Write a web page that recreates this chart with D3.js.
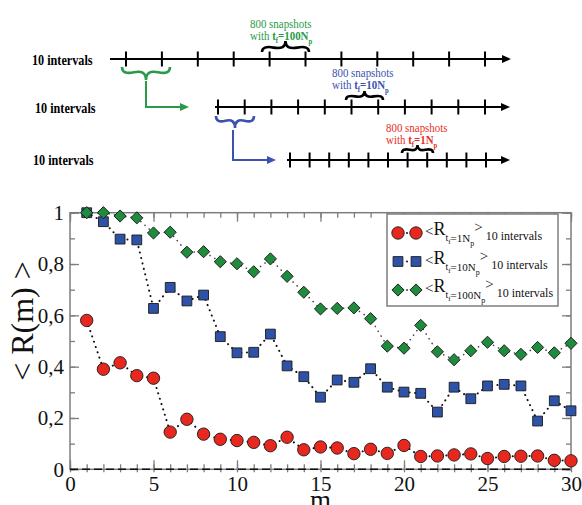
<!DOCTYPE html>
<html>
<head>
<meta charset="utf-8">
<script src="https://cdn.jsdelivr.net/npm/d3@7"></script>
<style>
  body { margin: 0; background: #fff; }
  text { font-family: "Liberation Serif", "Times New Roman", serif; }
</style>
</head>
<body>
<svg id="chart" width="582" height="505"></svg>
<script>
// ---- data ----
const mValues = [1,2,3,4,5,6,7,8,9,10,11,12,13,14,15,16,17,18,19,20,21,22,23,24,25,26,27,28,29,30];
const rTf1   = [0.58,0.39,0.415,0.365,0.355,0.145,0.195,0.137,0.117,0.112,0.105,0.092,0.125,0.076,0.087,
                0.083,0.061,0.078,0.062,0.093,0.05,0.052,0.056,0.06,0.042,0.05,0.051,0.052,0.035,0.033];
const rTf10  = [1.0,0.965,0.897,0.894,0.627,0.709,0.656,0.679,0.517,0.454,0.456,0.527,0.403,0.361,0.281,
                0.348,0.339,0.392,0.32,0.301,0.296,0.223,0.32,0.275,0.325,0.331,0.325,0.188,0.267,0.228];
const rTf100 = [1.0,1.0,0.987,0.98,0.921,0.924,0.846,0.848,0.809,0.801,0.77,0.82,0.752,0.69,0.625,
                0.627,0.629,0.587,0.48,0.472,0.561,0.458,0.427,0.462,0.495,0.462,0.448,0.475,0.454,0.491];
const xTickValues = [0,5,10,15,20,25,30];
const yTickValues = [0,0.2,0.4,0.6,0.8,1];
const yTickLabels = ["0","0,2","0,4","0,6","0,8","1"];
const seriesTf = ["1N", "10N", "100N"];
const intervalTicks = [0,1,2,3,4,5,6,7,8,9,10];

const svg = d3.select("#chart");

// ---- schematic of the sampling intervals ----
function bracePath(x1, y1, x2, y2, w, q) {
  let dx = x1 - x2, dy = y1 - y2;
  const len = Math.hypot(dx, dy); dx /= len; dy /= len;
  const qx1 = x1 + q*w*dy, qy1 = y1 - q*w*dx;
  const qx2 = (x1 - .25*len*dx) + (1-q)*w*dy, qy2 = (y1 - .25*len*dy) - (1-q)*w*dx;
  const tx1 = (x1 - .5*len*dx) + w*dy, ty1 = (y1 - .5*len*dy) - w*dx;
  const qx3 = x2 + q*w*dy, qy3 = y2 - q*w*dx;
  const qx4 = (x1 - .75*len*dx) + (1-q)*w*dy, qy4 = (y1 - .75*len*dy) - (1-q)*w*dx;
  return `M${x1},${y1} Q${qx1},${qy1} ${qx2},${qy2} T${tx1},${ty1} M${x2},${y2} Q${qx3},${qy3} ${qx4},${qy4} T${tx1},${ty1}`;
}
function arrowHead(g, tipX, tipY, color, len, half) {
  g.append("path")
    .attr("d", `M${tipX},${tipY} L${tipX-len},${tipY-half} L${tipX-len},${tipY+half} Z`)
    .attr("fill", color);
}

const rows = [
  { y: 59,  start: 110, first: 126, last: 485, tip: 511, labelX: 32, labelY: 65 },
  { y: 107, start: 215, first: 218, last: 485, tip: 510, labelX: 35, labelY: 113 },
  { y: 160, start: 287, first: 290, last: 486, tip: 510, labelX: 33, labelY: 165 }
];
const schem = svg.append("g");
rows.forEach(r => {
  const sx = d3.scaleLinear().domain([0, 10]).range([r.first, r.last]);
  schem.append("line").attr("x1", r.start).attr("x2", r.tip - 6)
    .attr("y1", r.y).attr("y2", r.y).attr("stroke", "#000").attr("stroke-width", 2);
  arrowHead(schem, r.tip, r.y, "#000", 9, 4);
  schem.selectAll(null).data(intervalTicks).enter().append("line")
    .attr("x1", d => sx(d)).attr("x2", d => sx(d))
    .attr("y1", r.y - 7.5).attr("y2", r.y + 7.5)
    .attr("stroke", "#000").attr("stroke-width", 2);
  schem.append("g").attr("transform", `translate(${r.labelX},${r.labelY}) scale(0.87,1)`)
    .append("text").attr("font-size", 14).attr("font-weight", "bold").text("10 intervals");
});

// braces over the 800-snapshot windows
const braceStroke = 2.6;
[
  { x1: 262, x2: 309, y: 52,  w: -11, color: "#000" },
  { x1: 346, x2: 383, y: 100, w: -9,  color: "#000" },
  { x1: 402, x2: 433, y: 153, w: -8,  color: "#000" },
  { x1: 122, x2: 170, y: 67,  w: 13,  color: "#2a9a48" },
  { x1: 216, x2: 254, y: 116, w: 12,  color: "#3b52b0" }
].forEach(b => {
  schem.append("path").attr("d", bracePath(b.x1, b.y, b.x2, b.y, b.w, 0.6))
    .attr("fill", "none").attr("stroke", b.color).attr("stroke-width", braceStroke);
});

// connectors between successive rows
[
  { x: 146, y0: 81,  y1: 107, tip: 189, color: "#2a9a48" },
  { x: 233, y0: 130, y1: 160, tip: 276, color: "#3b52b0" }
].forEach(c => {
  schem.append("path").attr("d", `M${c.x},${c.y0} V${c.y1} H${c.tip - 6}`)
    .attr("fill", "none").attr("stroke", c.color).attr("stroke-width", 2);
  arrowHead(schem, c.tip, c.y1, c.color, 9, 4);
});

// window captions
[
  { x: 250, y: 28,  tf: "=100N", color: "#2a9a48" },
  { x: 332, y: 77,  tf: "=10N",  color: "#3b52b0" },
  { x: 386, y: 132, tf: "=1N",   color: "#e8302a" }
].forEach(c => {
  const g = schem.append("g").attr("transform", `translate(${c.x},${c.y}) scale(0.84,1)`)
    .attr("fill", c.color);
  g.append("text").attr("font-size", 13).text("800 snapshots");
  const t = g.append("text").attr("y", 12.5).attr("font-size", 13);
  t.append("tspan").text("with ");
  t.append("tspan").attr("font-weight", "bold").text("t");
  t.append("tspan").attr("font-weight", "bold").attr("font-size", 8).attr("dy", 3).text("f");
  t.append("tspan").attr("font-weight", "bold").attr("dy", -3).text(c.tf);
  t.append("tspan").attr("font-weight", "bold").attr("font-size", 8).attr("dy", 4).text("p");
});

// ---- main plot ----
const x = d3.scaleLinear().domain([0, 30]).range([70, 571]);
const y = d3.scaleLinear().domain([0, 1]).range([469.3, 212.7]);
const frameColor = "#7d7d7d";
const plot = svg.append("g");

function styleAxis(g) {
  g.select(".domain").remove();
  g.selectAll(".tick line").attr("stroke", frameColor).attr("stroke-width", 1.3);
  g.selectAll(".tick text").attr("font-family", "Liberation Serif, serif").attr("font-size", 21).attr("fill", "#111");
}

// minor ticks
plot.append("g").attr("transform", `translate(0,${y(0)})`)
  .call(d3.axisBottom(x).tickValues(d3.range(0, 31)).tickSize(-5).tickFormat("")).call(styleAxis);
plot.append("g").attr("transform", `translate(0,${y(0)})`)
  .call(d3.axisBottom(x).tickValues(d3.range(0, 31)).tickSize(3).tickFormat("")).call(styleAxis);
plot.append("g").attr("transform", `translate(0,${y(1)})`)
  .call(d3.axisTop(x).tickValues(d3.range(0, 31)).tickSize(-5).tickFormat("")).call(styleAxis);
plot.append("g").attr("transform", `translate(${x(0)},0)`)
  .call(d3.axisLeft(y).tickValues(d3.range(0, 1.01, 0.1)).tickSize(-5).tickFormat("")).call(styleAxis);
plot.append("g").attr("transform", `translate(${x(30)},0)`)
  .call(d3.axisRight(y).tickValues(d3.range(0, 1.01, 0.1)).tickSize(-5).tickFormat("")).call(styleAxis);

// major ticks and labels
plot.append("g").attr("transform", `translate(0,${y(0)})`)
  .call(d3.axisBottom(x).tickValues(xTickValues).tickSize(-9).tickPadding(7).tickFormat(d3.format("d")))
  .call(styleAxis);
plot.append("g").attr("transform", `translate(0,${y(1)})`)
  .call(d3.axisTop(x).tickValues(xTickValues).tickSize(-9).tickFormat("")).call(styleAxis);
plot.append("g").attr("transform", `translate(${x(0)},0)`)
  .call(d3.axisLeft(y).tickValues(yTickValues).tickSize(-9).tickPadding(6)
    .tickFormat((d, i) => yTickLabels[i]))
  .call(styleAxis);
plot.append("g").attr("transform", `translate(${x(30)},0)`)
  .call(d3.axisRight(y).tickValues(yTickValues).tickSize(-9).tickFormat("")).call(styleAxis);

// frame
plot.append("rect").attr("x", x(0)).attr("y", y(1))
  .attr("width", x(30) - x(0)).attr("height", y(0) - y(1))
  .attr("fill", "none").attr("stroke", frameColor).attr("stroke-width", 1.5);

// dashed zero baseline
plot.append("line").attr("x1", x(0)).attr("x2", x(30)).attr("y1", y(0)).attr("y2", y(0))
  .attr("stroke", "#111").attr("stroke-width", 1.6).attr("stroke-dasharray", "8,4");

// axis titles
svg.append("text").attr("transform", "translate(33,321) rotate(-90)")
  .attr("text-anchor", "middle").attr("font-size", 32).attr("fill", "#111").text("< R(m) >");
svg.append("text").attr("x", x(15)).attr("y", 509).attr("text-anchor", "middle")
  .attr("font-size", 27).attr("fill", "#111").text("m");

// series
const series = [
  { values: rTf1,   color: "#e8281f", shape: "circle",  dot: "#111", dotW: 2.0 },
  { values: rTf10,  color: "#2e52a8", shape: "square",  dot: "#111", dotW: 2.0 },
  { values: rTf100, color: "#1f8b3c", shape: "diamond", dot: "#444", dotW: 1.6 }
];
const line = d3.line().x(d => x(d.m)).y(d => y(d.v));

function drawMarker(g, shape, color) {
  if (shape === "circle") {
    g.append("circle").attr("r", 6.2);
  } else if (shape === "square") {
    g.append("path").attr("d", d3.symbol(d3.symbolSquare).size(96)());
  } else {
    g.append("path").attr("d", d3.symbol(d3.symbolSquare).size(74)()).attr("transform", "rotate(45)");
  }
  g.selectAll("*").attr("fill", color).attr("stroke", "#1a1a1a").attr("stroke-width", 0.9);
}

series.forEach(s => {
  const pts = mValues.map((m, i) => ({ m, v: s.values[i] }));
  plot.append("path").datum(pts).attr("d", line)
    .attr("fill", "none").attr("stroke", s.dot).attr("stroke-width", s.dotW)
    .attr("stroke-linecap", "round").attr("stroke-dasharray", "0.1,5.5");
});
series.forEach(s => {
  const pts = mValues.map((m, i) => ({ m, v: s.values[i] }));
  plot.selectAll(null).data(pts).enter().append("g")
    .attr("transform", d => `translate(${x(d.m)},${y(d.v)})`)
    .each(function () { drawMarker(d3.select(this), s.shape, s.color); });
});

// ---- legend ----
const legend = svg.append("g");
legend.append("rect").attr("x", 387).attr("y", 214).attr("width", 171).attr("height", 92)
  .attr("fill", "#fff").attr("stroke", frameColor).attr("stroke-width", 1.5);
const rowY = [233, 261.5, 290];
series.forEach((s, i) => {
  const cy = rowY[i];
  legend.append("circle").attr("cx", 407).attr("cy", cy).attr("r", 1).attr("fill", s.dot);
  [398, 416].forEach(cx => {
    const g = legend.append("g").attr("transform", `translate(${cx},${cy})`);
    drawMarker(g, s.shape, s.color);
  });
  const t = legend.append("text").attr("x", 425).attr("fill", "#111");
  t.append("tspan").attr("font-size", 15).attr("y", cy + 3).text("<");
  t.append("tspan").attr("font-size", 18).attr("y", cy + 2).text("R");
  t.append("tspan").attr("font-size", 10).attr("y", cy + 8).text("t");
  t.append("tspan").attr("font-size", 7).attr("y", cy + 11).text("f");
  t.append("tspan").attr("font-size", 11).attr("y", cy + 9).text("=" + seriesTf[i]);
  t.append("tspan").attr("font-size", 8).attr("y", cy + 13).text("p");
  t.append("tspan").attr("font-size", 15).attr("y", cy - 1).text(">");
  t.append("tspan").attr("font-size", 12).attr("dx", 3).attr("y", cy + 7).text("10 intervals");
});
</script>
</body>
</html>
